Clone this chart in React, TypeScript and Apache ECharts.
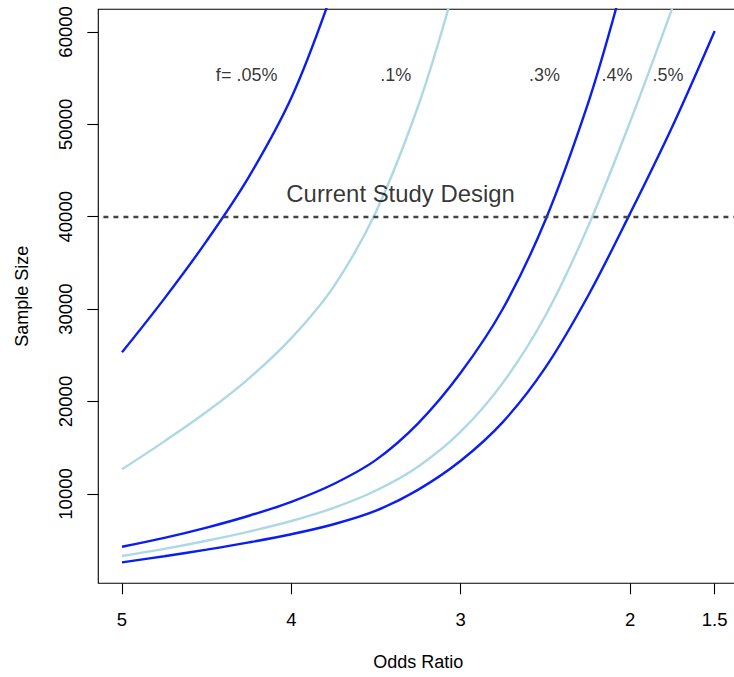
import React, { useEffect, useRef } from "react";
import * as echarts from "echarts";

// Odds ratio (x) and required sample size (y) for each risk-allele frequency f
const or005 = [5.0, 4.75, 4.5, 4.25, 4.0, 3.79];
const n005 = [25330, 31140, 37390, 44350, 52880, 62700];

const or01 = [5.0, 4.75, 4.5, 4.25, 4.0, 3.75, 3.5, 3.25, 3.07];
const n01 = [12670, 15690, 18890, 22510, 26860, 32440, 40550, 52040, 62700];

const or03 = [5.0, 4.75, 4.5, 4.25, 4.0, 3.75, 3.5, 3.25, 3.0, 2.75, 2.5, 2.25, 2.08];
const n03 = [4290, 5250, 6360, 7640, 9150, 11080, 13690, 17670, 23110, 30070, 39620, 52160, 62700];

const or04 = [5.0, 4.75, 4.5, 4.25, 4.0, 3.75, 3.5, 3.25, 3.0, 2.75, 2.5, 2.25, 2.0, 1.75];
const n04 = [3290, 4060, 4940, 5930, 7070, 8490, 10370, 12980, 16740, 22050, 29280, 38850, 50240, 62600];

const or05 = [5.0, 4.75, 4.5, 4.25, 4.0, 3.75, 3.5, 3.25, 3.0, 2.75, 2.5, 2.25, 2.0, 1.75, 1.5];
const n05 = [2600, 3260, 3980, 4760, 5640, 6720, 8190, 10470, 13590, 17800, 23670, 31370, 40340, 49770, 60110];

// Curve labels and their positions
const curveLabels = ["f= .05%", ".1%", ".3%", ".4%", ".5%"];
const curveLabelOR = [4.264, 3.383, 2.505, 2.077, 1.775];
const curveLabelN = 55300;

const designSize = 40000;
const designLabel = "Current Study Design";
const designLabelOR = 3.355;
const designLabelN = 42500;

const xTicks = [5, 4, 3, 2, 1.5];
const yTicks = [10000, 20000, 30000, 40000, 50000, 60000];

const DARK = "#0a1ef2";
const LIGHT = "#add8e6";
const FONT = "'Liberation Sans', Arial, Helvetica, sans-serif";

const pairs = (xs: number[], ys: number[]) => xs.map((x, i) => [x, ys[i]]);

export default function App() {
  const ref = useRef<HTMLDivElement>(null);

  useEffect(() => {
    if (!ref.current) return;
    document.body.style.overflow = "hidden";
    const chart = echarts.init(ref.current, undefined, { renderer: "svg" });

    const curve = (name: string, xs: number[], ys: number[], color: string) => ({
      name,
      type: "line",
      data: pairs(xs, ys),
      showSymbol: false,
      symbol: "none",
      smooth: 0.35,
      clip: true,
      silent: true,
      lineStyle: { color, width: 2.4 },
      z: 3,
    });

    chart.setOption({
      animation: false,
      textStyle: { fontFamily: FONT },
      grid: {
        left: 98.3,
        top: 9.3,
        width: 640.1,
        height: 574,
        show: true,
        borderColor: "#000",
        borderWidth: 1.1,
        backgroundColor: "transparent",
      },
      xAxis: {
        type: "value",
        inverse: true,
        min: 1.36,
        max: 5.14,
        name: "Odds Ratio",
        nameLocation: "middle",
        nameGap: 70,
        nameTextStyle: { fontSize: 18, color: "#000", fontFamily: FONT },
        axisLine: { show: false },
        splitLine: { show: false },
        axisTick: {
          show: true,
          length: 11,
          customValues: xTicks,
          lineStyle: { color: "#000", width: 1.1 },
        },
        axisLabel: {
          customValues: xTicks,
          fontSize: 18.5,
          color: "#000",
          fontFamily: FONT,
          margin: 27,
          formatter: (v: number) => String(v),
        },
      },
      yAxis: {
        type: "value",
        min: 330,
        max: 62450,
        name: "Sample Size",
        nameLocation: "middle",
        nameGap: 67,
        nameTextStyle: { fontSize: 18, color: "#000", fontFamily: FONT },
        axisLine: { show: false },
        splitLine: { show: false },
        axisTick: {
          show: true,
          length: 11,
          customValues: yTicks,
          lineStyle: { color: "#000", width: 1.1 },
        },
        axisLabel: {
          customValues: yTicks,
          rotate: 90,
          fontSize: 18.5,
          color: "#000",
          fontFamily: FONT,
          margin: 23,
          formatter: (v: number) => String(v),
        },
      },
      series: [
        curve(".05%", or005, n005, DARK),
        curve(".1%", or01, n01, LIGHT),
        curve(".3%", or03, n03, DARK),
        curve(".4%", or04, n04, LIGHT),
        {
          ...curve(".5%", or05, n05, DARK),
          markLine: {
            silent: true,
            symbol: "none",
            label: { show: false },
            lineStyle: { color: "#444", width: 2.3, type: [5, 5] },
            data: [{ yAxis: designSize }],
          },
        },
        {
          name: "labels",
          type: "scatter",
          silent: true,
          symbolSize: 1,
          itemStyle: { color: "rgba(0,0,0,0)" },
          label: {
            show: true,
            position: "inside",
            color: "#000",
            fontSize: 18,
            fontFamily: FONT,
            formatter: (p: any) => p.name,
          },
          data: [
            ...curveLabels.map((t, i) => ({ name: t, value: [curveLabelOR[i], curveLabelN] })),
            {
              name: designLabel,
              value: [designLabelOR, designLabelN],
              label: { fontSize: 23.9 },
            },
          ],
          z: 5,
        },
      ],
    });

    return () => chart.dispose();
  }, []);

  // The plot box runs slightly past the right edge of the window, as the frame is cut there
  return (
    <div
      ref={ref}
      style={{ position: "fixed", left: 0, top: 0, width: 745, height: 677, background: "#fff" }}
    />
  );
}
